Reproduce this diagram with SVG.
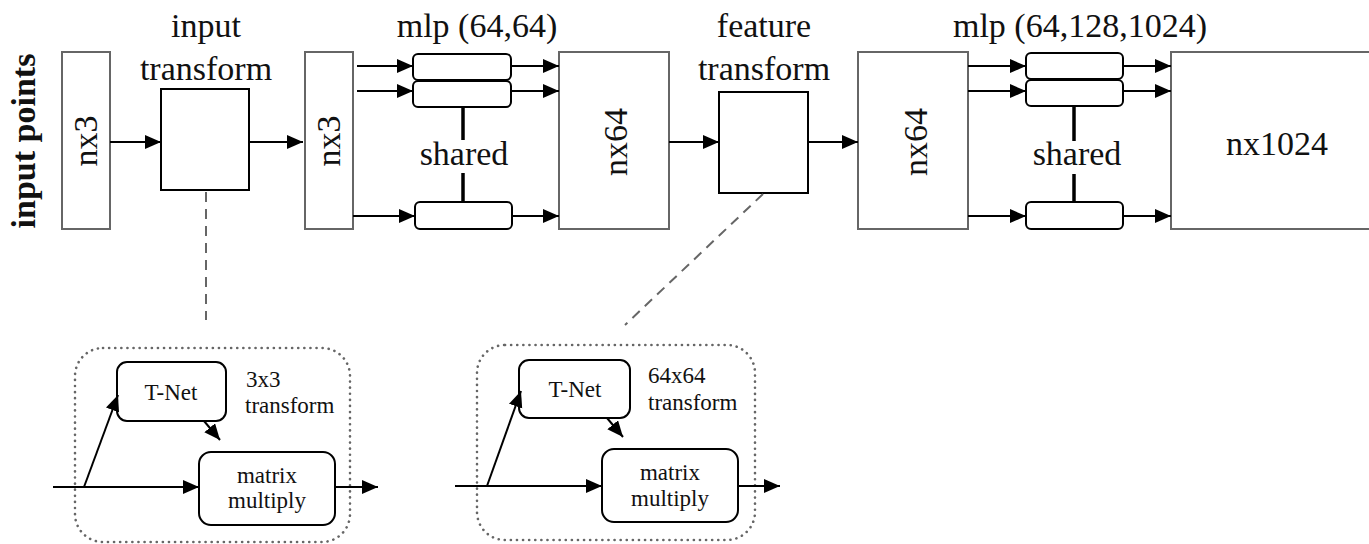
<svg xmlns="http://www.w3.org/2000/svg" width="1369" height="544" viewBox="0 0 1369 544">
<style>
  text { font-family: 'Liberation Serif', 'DejaVu Serif', serif; fill: #111; }
  .lbl { font-size: 34px; }
  .sm { font-size: 23px; }
  .bold { font-weight: bold; }
  .gbox { fill: #fff; stroke: #666; stroke-width: 2; }
  .kbox { fill: #fff; stroke: #000; stroke-width: 2; }
  .arrow { stroke: #000; stroke-width: 2; fill: none; marker-end: url(#ah); }
  .shared { stroke: #000; stroke-width: 3.5; }
  .dash { stroke: #666; stroke-width: 2; stroke-dasharray: 10 7; fill: none; }
  .dot { stroke: #666; stroke-width: 2.6; stroke-dasharray: 0.1 6; stroke-linecap: round; fill: none; }
</style>
<defs>
  <marker id="ah" markerUnits="userSpaceOnUse" markerWidth="17" markerHeight="15" refX="16" refY="7" orient="auto">
    <path d="M0,0 L16,7 L0,14 z" fill="#000"/>
  </marker>
</defs>
<rect width="1369" height="544" fill="#fff"/>

<text class="lbl bold" transform="translate(35,141) rotate(-90)" text-anchor="middle">input points</text>

<g id="nx3a">
  <rect class="gbox" x="62" y="52" width="48" height="177"/>
  <text class="lbl" transform="translate(97,141) rotate(-90)" text-anchor="middle">nx3</text>
</g>

<g id="input-transform">
  <text class="lbl" x="206" y="37" text-anchor="middle">input</text>
  <text class="lbl" x="206" y="80" text-anchor="middle">transform</text>
  <rect class="kbox" x="161" y="89" width="88" height="101"/>
</g>

<g id="nx3b">
  <rect class="gbox" x="305" y="52" width="48" height="177"/>
  <text class="lbl" transform="translate(340,141) rotate(-90)" text-anchor="middle">nx3</text>
</g>

<g id="mlp1">
  <text class="lbl" x="477" y="37" text-anchor="middle">mlp (64,64)</text>
  <rect class="kbox" x="413" y="54" width="98" height="26" rx="5"/>
  <rect class="kbox" x="413" y="81" width="98" height="26" rx="5"/>
  <rect class="kbox" x="415" y="202" width="97" height="27" rx="5"/>
  <line class="shared" x1="463" y1="107" x2="463" y2="140"/>
  <line class="shared" x1="463" y1="173" x2="463" y2="202"/>
  <text class="lbl" x="464" y="165" text-anchor="middle">shared</text>
</g>

<g id="nx64a">
  <rect class="gbox" x="559" y="52" width="110" height="177"/>
  <text class="lbl" transform="translate(627,142) rotate(-90)" text-anchor="middle">nx64</text>
</g>

<g id="feature-transform">
  <text class="lbl" x="764" y="37" text-anchor="middle">feature</text>
  <text class="lbl" x="764" y="80" text-anchor="middle">transform</text>
  <rect class="kbox" x="719" y="92" width="89" height="101"/>
</g>

<g id="nx64b">
  <rect class="gbox" x="858" y="52" width="110" height="177"/>
  <text class="lbl" transform="translate(927,142) rotate(-90)" text-anchor="middle">nx64</text>
</g>

<g id="mlp2">
  <text class="lbl" x="1080" y="37" text-anchor="middle">mlp (64,128,1024)</text>
  <rect class="kbox" x="1026" y="53" width="97" height="26" rx="5"/>
  <rect class="kbox" x="1026" y="80" width="97" height="26" rx="5"/>
  <rect class="kbox" x="1026" y="202" width="97" height="27" rx="5"/>
  <line class="shared" x1="1074" y1="106" x2="1074" y2="141"/>
  <line class="shared" x1="1074" y1="174" x2="1074" y2="202"/>
  <text class="lbl" x="1077" y="165" text-anchor="middle">shared</text>
</g>

<g id="nx1024">
  <rect class="gbox" x="1171" y="52" width="210" height="177"/>
  <text class="lbl" x="1277" y="155" text-anchor="middle">nx1024</text>
</g>

<g id="panel-3x3">
  <rect class="dot" x="75" y="348" width="275" height="194" rx="28"/>
  <rect class="kbox" x="117" y="362" width="109" height="59" rx="10"/>
  <text class="sm" x="171" y="400" text-anchor="middle">T-Net</text>
  <text class="sm" x="246" y="387">3x3</text>
  <text class="sm" x="245" y="413">transform</text>
  <rect class="kbox" x="199" y="452" width="136" height="73" rx="12"/>
  <text class="sm" x="267" y="483" text-anchor="middle">matrix</text>
  <text class="sm" x="267" y="508" text-anchor="middle">multiply</text>
</g>

<g id="panel-64x64">
  <rect class="dot" x="477" y="345" width="278" height="195" rx="28"/>
  <rect class="kbox" x="519" y="360" width="111" height="58" rx="10"/>
  <text class="sm" x="575" y="397" text-anchor="middle">T-Net</text>
  <text class="sm" x="648" y="383">64x64</text>
  <text class="sm" x="648" y="410">transform</text>
  <rect class="kbox" x="602" y="449" width="136" height="73" rx="12"/>
  <text class="sm" x="670" y="480" text-anchor="middle">matrix</text>
  <text class="sm" x="670" y="506" text-anchor="middle">multiply</text>
</g>

<g id="connectors">
  <line class="arrow" x1="110" y1="142" x2="161" y2="142"/>
  <line class="arrow" x1="250" y1="142" x2="303" y2="142"/>
  <line class="arrow" x1="357" y1="66" x2="413" y2="66"/>
  <line class="arrow" x1="357" y1="91" x2="413" y2="91"/>
  <line class="arrow" x1="353" y1="216" x2="415" y2="216"/>
  <line class="arrow" x1="511" y1="66" x2="559" y2="66"/>
  <line class="arrow" x1="511" y1="91" x2="559" y2="91"/>
  <line class="arrow" x1="512" y1="216" x2="559" y2="216"/>
  <line class="arrow" x1="669" y1="142" x2="719" y2="142"/>
  <line class="arrow" x1="808" y1="142" x2="858" y2="142"/>
  <line class="arrow" x1="968" y1="66" x2="1026" y2="66"/>
  <line class="arrow" x1="968" y1="91" x2="1026" y2="91"/>
  <line class="arrow" x1="968" y1="216" x2="1026" y2="216"/>
  <line class="arrow" x1="1123" y1="66" x2="1171" y2="66"/>
  <line class="arrow" x1="1123" y1="91" x2="1171" y2="91"/>
  <line class="arrow" x1="1123" y1="216" x2="1171" y2="216"/>
  <line class="dash" x1="206" y1="192" x2="206" y2="320"/>
  <line class="dash" x1="763" y1="194" x2="625" y2="325"/>
  <line class="arrow" x1="53" y1="487" x2="199" y2="487"/>
  <line class="arrow" x1="335" y1="487" x2="378" y2="487"/>
  <line class="arrow" x1="84" y1="487" x2="118" y2="395"/>
  <line class="arrow" x1="204" y1="421" x2="220" y2="440"/>
  <line class="arrow" x1="455" y1="486" x2="602" y2="486"/>
  <line class="arrow" x1="738" y1="486" x2="780" y2="486"/>
  <line class="arrow" x1="487" y1="486" x2="521" y2="391"/>
  <line class="arrow" x1="607" y1="418" x2="623" y2="437"/>
</g>
</svg>
